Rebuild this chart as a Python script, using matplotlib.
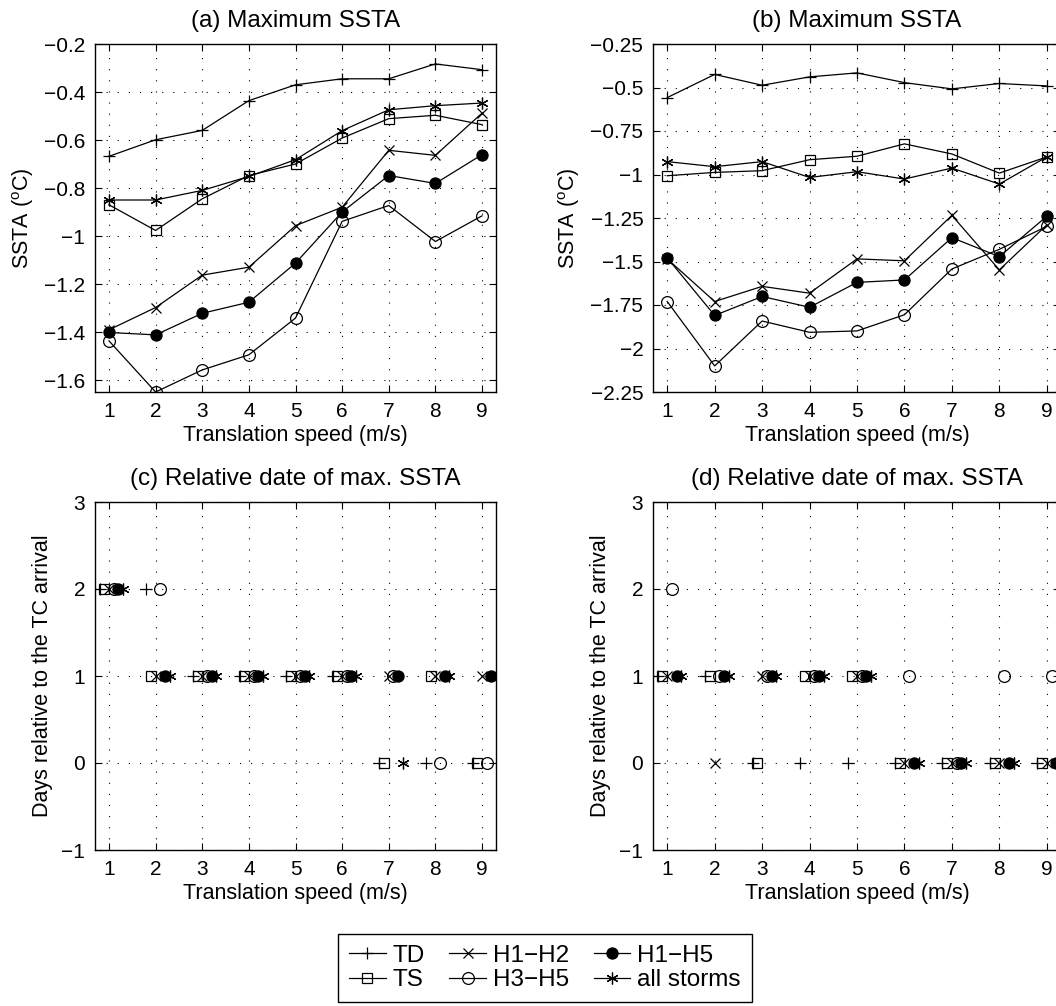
import numpy as np
import matplotlib
matplotlib.use('Agg')
import matplotlib.pyplot as plt
from matplotlib.ticker import FuncFormatter

plt.rcParams['font.family'] = ['Liberation Sans', 'DejaVu Sans']
plt.rcParams['mathtext.fontset'] = 'custom'
plt.rcParams['mathtext.rm'] = 'Liberation Sans'
plt.rcParams['mathtext.it'] = 'Liberation Sans:italic'

speed = np.arange(1, 10)
series = ['TD', 'TS', 'H1\u2212H2', 'H3\u2212H5', 'H1\u2212H5', 'all storms']

# (a) maximum SSTA
ssta_a_td = [-0.668, -0.599, -0.560, -0.436, -0.370, -0.345, -0.345, -0.283, -0.307]
ssta_a_ts = [-0.870, -0.977, -0.845, -0.748, -0.700, -0.592, -0.511, -0.497, -0.536]
ssta_a_h12 = [-1.391, -1.298, -1.163, -1.130, -0.957, -0.880, -0.643, -0.664, -0.488]
ssta_a_h35 = [-1.437, -1.650, -1.558, -1.495, -1.342, -0.939, -0.873, -1.023, -0.916]
ssta_a_h15 = [-1.402, -1.412, -1.322, -1.276, -1.113, -0.900, -0.748, -0.781, -0.661]
ssta_a_all = [-0.850, -0.850, -0.810, -0.752, -0.682, -0.561, -0.474, -0.457, -0.446]

# (b) maximum SSTA
ssta_b_td = [-0.558, -0.425, -0.487, -0.439, -0.416, -0.472, -0.508, -0.477, -0.491]
ssta_b_ts = [-1.007, -0.988, -0.978, -0.915, -0.895, -0.824, -0.882, -0.992, -0.899]
ssta_b_h12 = [-1.485, -1.730, -1.643, -1.682, -1.485, -1.496, -1.235, -1.548, -1.290]
ssta_b_h35 = [-1.730, -2.100, -1.842, -1.907, -1.899, -1.806, -1.543, -1.430, -1.298]
ssta_b_h15 = [-1.479, -1.810, -1.701, -1.763, -1.620, -1.606, -1.363, -1.472, -1.240]
ssta_b_all = [-0.926, -0.955, -0.926, -1.017, -0.984, -1.026, -0.963, -1.055, -0.899]

# (c) relative date of max SSTA (days); last "all storms" point falls outside the axes
day_c_td = [2, 2, 1, 1, 1, 1, 0, 0, 0]
day_c_ts = [2, 1, 1, 1, 1, 1, 0, 1, 0]
day_c_h12 = [2, 1, 1, 1, 1, 1, 1, 1, 1]
day_c_h35 = [2, 2, 1, 1, 1, 1, 1, 0, 0]
day_c_h15 = [2, 1, 1, 1, 1, 1, 1, 1, 1]
day_c_all = [2, 1, 1, 1, 1, 1, 0, 1, np.nan]

# (d) relative date of max SSTA (days)
day_d_td = [1, 1, 0, 0, 0, 0, 0, 0, 0]
day_d_ts = [1, 1, 0, 1, 1, 0, 0, 0, 0]
day_d_h12 = [1, 0, 1, 1, 1, 0, 0, 0, 0]
day_d_h35 = [2, 1, 1, 1, 1, 1, 0, 1, 1]
day_d_h15 = [1, 1, 1, 1, 1, 0, 0, 0, 0]
day_d_all = [1, 1, 1, 1, 1, 0, 0, 0, 0]

# marker styles per category
markers = ['+', 's', 'x', 'o', 'o', (6, 2, 0)]
mfaces = ['none', 'none', 'none', 'none', 'k', 'none']
msizes = [9, 6.5, 7, 8.5, 8, 8.5]
offsets = [-0.2, -0.1, 0.0, 0.1, 0.2, 0.3]

FS = 15
minus_fmt = FuncFormatter(lambda v, p: f'{v:g}'.replace('-', '\u2212'))

fig = plt.figure(figsize=(10.56, 10.06), dpi=100)
W, H = 1056, 1006


def make_axes(left, top, width, height):
    return fig.add_axes([left / W, 1 - (top + height) / H, width / W, height / H])


def style(ax, ylim, yticks, title, ylabel):
    ax.set_xlim(0.7, 9.3)
    ax.set_ylim(*ylim)
    ax.set_xticks(speed)
    ax.set_yticks(yticks)
    ax.yaxis.set_major_formatter(minus_fmt)
    ax.tick_params(direction='in', length=5, width=0.8, top=True, right=True,
                   labelsize=FS, pad=7)
    ax.grid(True, color='k', linestyle=(0, (1, 9)), linewidth=0.8)
    for s in ax.spines.values():
        s.set_linewidth(1.0)
    ax.set_title(title, fontsize=17.5, pad=12)
    ax.set_xlabel('Translation speed (m/s)', fontsize=15.5, labelpad=3)
    ax.set_ylabel(ylabel, fontsize=15.5, labelpad=6)


ax_a = make_axes(95, 44, 401, 348)
ax_b = make_axes(653, 44, 408, 348)
ax_c = make_axes(95, 502, 401, 348)
ax_d = make_axes(653, 502, 408, 348)

ssta_label = r'SSTA ($^{\rm o}$C)'
for ax, data in [(ax_a, [ssta_a_td, ssta_a_ts, ssta_a_h12, ssta_a_h35, ssta_a_h15, ssta_a_all]),
                 (ax_b, [ssta_b_td, ssta_b_ts, ssta_b_h12, ssta_b_h35, ssta_b_h15, ssta_b_all])]:
    for i, vals in enumerate(data):
        ax.plot(speed, vals, color='k', linewidth=0.9, marker=markers[i],
                markerfacecolor=mfaces[i], markeredgecolor='k', markersize=msizes[i],
                markeredgewidth=0.9, label=series[i])

style(ax_a, (-1.65, -0.2), np.arange(-1.6, -0.19, 0.2), '(a) Maximum SSTA', ssta_label)
style(ax_b, (-2.25, -0.25), np.arange(-2.25, -0.24, 0.25), '(b) Maximum SSTA', ssta_label)

for ax, data in [(ax_c, [day_c_td, day_c_ts, day_c_h12, day_c_h35, day_c_h15, day_c_all]),
                 (ax_d, [day_d_td, day_d_ts, day_d_h12, day_d_h35, day_d_h15, day_d_all])]:
    for i, vals in enumerate(data):
        ax.plot(speed + offsets[i], vals, linestyle='none', marker=markers[i],
                markerfacecolor=mfaces[i], markeredgecolor='k', markersize=msizes[i],
                markeredgewidth=0.9)

days_label = 'Days relative to the TC arrival'
style(ax_c, (-1, 3), [-1, 0, 1, 2, 3], '(c) Relative date of max. SSTA', days_label)
style(ax_d, (-1, 3), [-1, 0, 1, 2, 3], '(d) Relative date of max. SSTA', days_label)

handles, labels = ax_a.get_legend_handles_labels()
leg = fig.legend(handles, labels, ncol=3, loc='center',
                 bbox_to_anchor=(545 / W, 1 - 968 / H), fontsize=17.5,
                 handlelength=1.5, handletextpad=0.3, columnspacing=1.0,
                 labelspacing=0.12, borderpad=0.45, borderaxespad=0,
                 fancybox=False, edgecolor='k', framealpha=1)
leg.get_frame().set_linewidth(1.0)

fig.savefig('out.png', dpi=100)
